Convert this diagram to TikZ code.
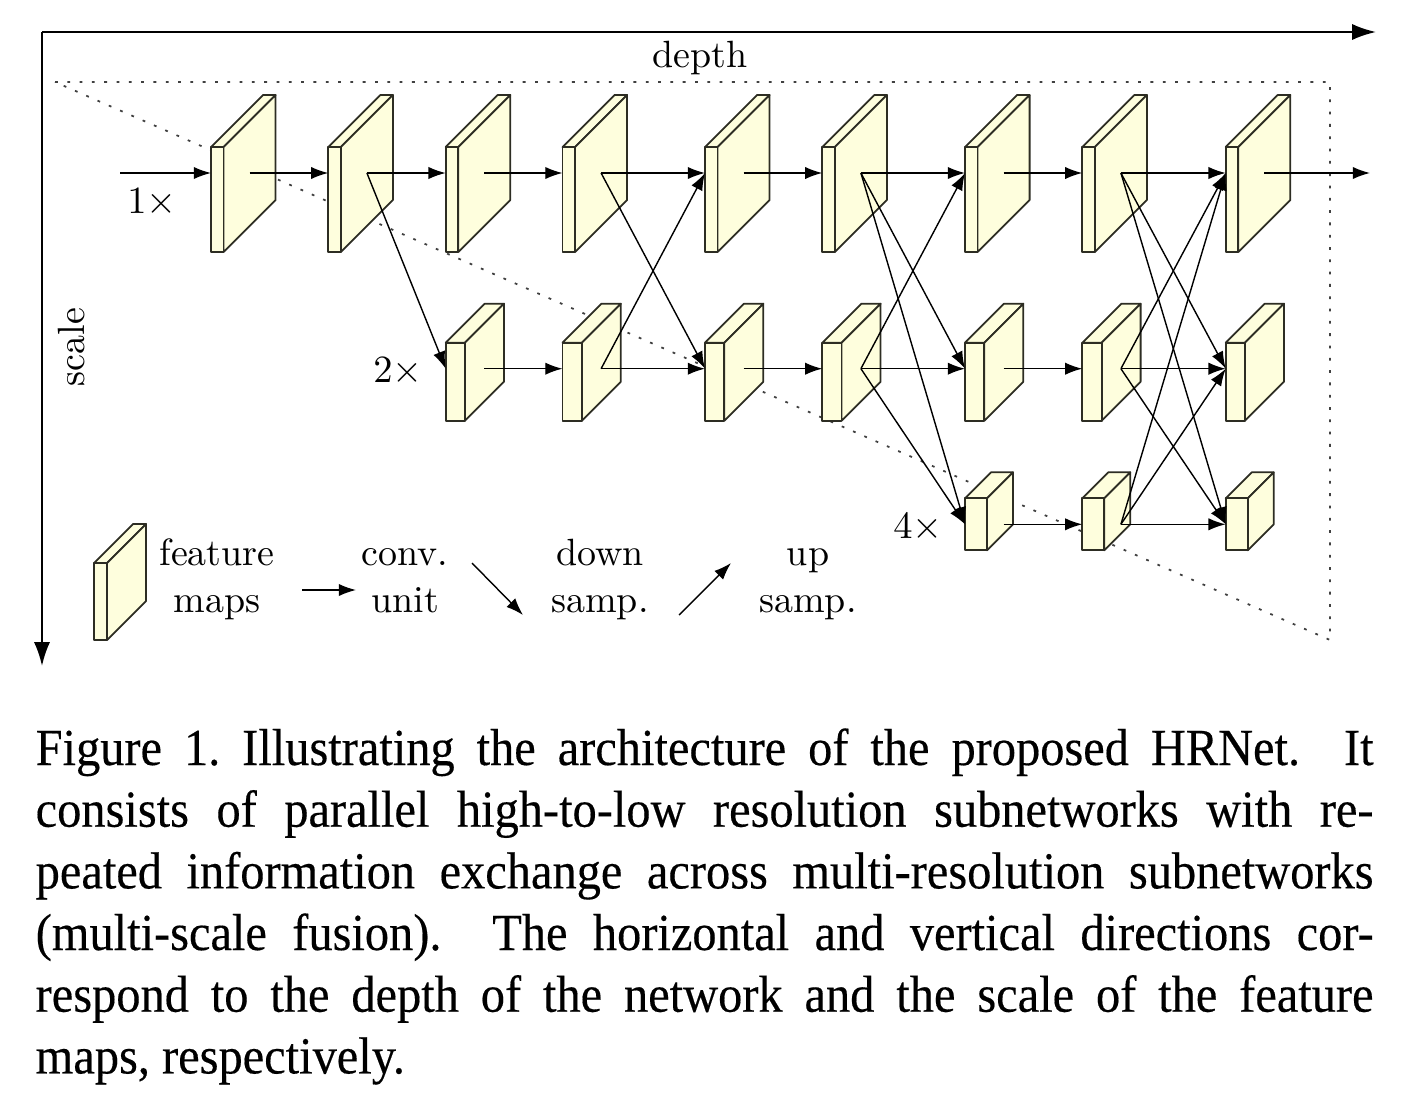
\documentclass[tikz,border=0pt]{standalone}
\usepackage{fontspec}
\newfontfamily\capfont[FakeStretch=0.93, FakeBold=0.3]{Liberation Serif}
\usepackage{xcolor}
\usepackage{tikz}
\usetikzlibrary{arrows.meta}

\definecolor{fmapfill}{RGB}{254,254,221}
\definecolor{fmapline}{RGB}{45,45,35}

\tikzset{
  fmapface/.style={fill=fmapfill, draw=fmapline, line width=0.5pt, line join=round},
  conv/.style={-{Latex[length=4.9pt,width=3.5pt]}, line width=0.4pt},
  axis/.style={-{Latex[length=6.8pt,width=4.6pt]}, line width=0.6pt},
  guide/.style={black!75, line width=0.5pt, dash pattern=on 0.8pt off 2.7pt},
  lbl/.style={font=\fontsize{10.8}{13.3}\selectfont, inner sep=0pt},
  legend/.style={lbl, align=center},
  capline/.style={font=\capfont\fontsize{14.8}{17.5}\selectfont, inner sep=0pt, anchor=base west},
}

%% feature map box: name, left x, top y, front width, height, depth
\newcommand{\fmapbox}[6]{
  \filldraw[fmapface] (#2,#3) -- ++(#6,-#6) -- ++(#4,0) -- ++(-#6,#6) -- cycle;
  \filldraw[fmapface] ({#2+#4},#3) -- ++(#6,-#6) -- ++(0,#5) -- ++(-#6,#6) -- cycle;
  \filldraw[fmapface] (#2,#3) rectangle ++(#4,#5);
  \coordinate (#1) at ({#2+38.6},{#3+26});
  \coordinate (#1-in) at (#2,{#3+26});
}
%% one size per resolution
\newcommand{\hifmap}[2]{\fmapbox{#1}{#2}{147}{12.6}{105}{52}}
\newcommand{\midfmap}[2]{\fmapbox{#1}{#2}{342.7}{19.3}{78}{39}}
\newcommand{\lofmap}[2]{\fmapbox{#1}{#2}{498.3}{22}{52}{26}}
\newcommand{\capline}[1]{\hbox to 13.37cm{#1}}

\begin{document}
\begin{tikzpicture}[x=0.01cm, y=-0.01cm]
\useasboundingbox (0,0) rectangle (1416,1100);

%% ─── Axes ───────────────────────────────────────────────────
\coordinate (origin) at (42,32);
\coordinate (depthend) at (1376,32);
\coordinate (scaleend) at (42,666);
\draw[axis] (origin) -- (depthend);
\draw[axis] (origin) -- (scaleend);
\node[lbl] (depthlab) at (700,58) {depth};
\node[lbl, rotate=90] (scalelab) at (72,347) {scale};

%% ─── Dotted guide ───────────────────────────────────────────
\draw[guide] (55,82) -- (1330,82) -- (1330,640) -- cycle;

%% ─── Feature maps ───────────────────────────────────────────
%% 1x
\hifmap{hi1}{211}
\hifmap{hi2}{328.3}
\hifmap{hi3}{445.7}
\hifmap{hi4}{562.5}
\hifmap{hi5}{705}
\hifmap{hi6}{822.3}
\hifmap{hi7}{965}
\hifmap{hi8}{1082.3}
\hifmap{hi9}{1225.7}
%% 2x
\midfmap{mid3}{445.7}
\midfmap{mid4}{562.5}
\midfmap{mid5}{705}
\midfmap{mid6}{822.3}
\midfmap{mid7}{965}
\midfmap{mid8}{1082.3}
\midfmap{mid9}{1225.7}
%% 4x
\lofmap{lo7}{965}
\lofmap{lo8}{1082.3}
\lofmap{lo9}{1225.7}

\node[lbl] (onex) at (152,203) {$1\times$};
\node[lbl] (twox) at (398,372) {$2\times$};
\node[lbl] (fourx) at (918,528) {$4\times$};

%% ─── Connections ────────────────────────────────────────────
\coordinate (input) at (120,173);
\coordinate (output) at (1370,173);
\draw[conv] (input) -- (hi1-in);
\draw[conv] (hi1) -- (hi2-in);
\draw[conv] (hi2) -- (hi3-in);
\draw[conv] (hi3) -- (hi4-in);
\draw[conv] (hi4) -- (hi5-in);
\draw[conv] (hi5) -- (hi6-in);
\draw[conv] (hi6) -- (hi7-in);
\draw[conv] (hi7) -- (hi8-in);
\draw[conv] (hi8) -- (hi9-in);
\draw[conv] (hi9) -- (output);
%% new branch 2x
\draw[conv] (hi2) -- (mid3-in);
\draw[conv] (mid3) -- (mid4-in);
\draw[conv] (mid4) -- (mid5-in);
\draw[conv] (mid5) -- (mid6-in);
\draw[conv] (mid6) -- (mid7-in);
\draw[conv] (mid7) -- (mid8-in);
\draw[conv] (mid8) -- (mid9-in);
%% exchange 1
\draw[conv] (hi4) -- (mid5-in);
\draw[conv] (mid4) -- (hi5-in);
%% exchange 2 + new branch 4x
\draw[conv] (hi6) -- (mid7-in);
\draw[conv] (hi6) -- (lo7-in);
\draw[conv] (mid6) -- (hi7-in);
\draw[conv] (mid6) -- (lo7-in);
\draw[conv] (lo7) -- (lo8-in);
%% exchange 3
\draw[conv] (hi8) -- (mid9-in);
\draw[conv] (hi8) -- (lo9-in);
\draw[conv] (mid8) -- (hi9-in);
\draw[conv] (mid8) -- (lo9-in);
\draw[conv] (lo8) -- (hi9-in);
\draw[conv] (lo8) -- (mid9-in);
\draw[conv] (lo8) -- (lo9-in);

%% ─── Legend ─────────────────────────────────────────────────
\fmapbox{key}{94}{563}{13}{77}{39}
\node[legend] (keyfmap) at (217,580) {\strut feature\\\strut maps};
\coordinate (convfrom) at (302,590);
\coordinate (convto) at (356,590);
\draw[conv] (convfrom) -- (convto);
\node[legend] (keyconv) at (405,580) {\strut conv.\\\strut unit};
\coordinate (downfrom) at (472,563);
\coordinate (downto) at (523,615);
\draw[conv] (downfrom) -- (downto);
\node[legend] (keydown) at (600,580) {\strut down\\\strut samp.};
\coordinate (upfrom) at (679,615);
\coordinate (upto) at (731,563);
\draw[conv] (upfrom) -- (upto);
\node[legend] (keyup) at (808,580) {\strut up\\\strut samp.};

%% ─── Caption ────────────────────────────────────────────────
\node[capline] (cap1) at (35,765)
  {\capline{Figure 1.\ Illustrating the architecture of the proposed HRNet.\ \ It}};
\node[capline] (cap2) at (35,826.7)
  {\capline{consists of parallel high-to-low resolution subnetworks with re-}};
\node[capline] (cap3) at (35,888.4)
  {\capline{peated information exchange across multi-resolution subnetworks}};
\node[capline] (cap4) at (35,950)
  {\capline{(multi-scale fusion).\ \ The horizontal and vertical directions cor-}};
\node[capline] (cap5) at (35,1011.7)
  {\capline{respond to the depth of the network and the scale of the feature}};
\node[capline] (cap6) at (35,1073.4)
  {\capline{maps, respectively.\hfil}};

\end{tikzpicture}
\end{document}
